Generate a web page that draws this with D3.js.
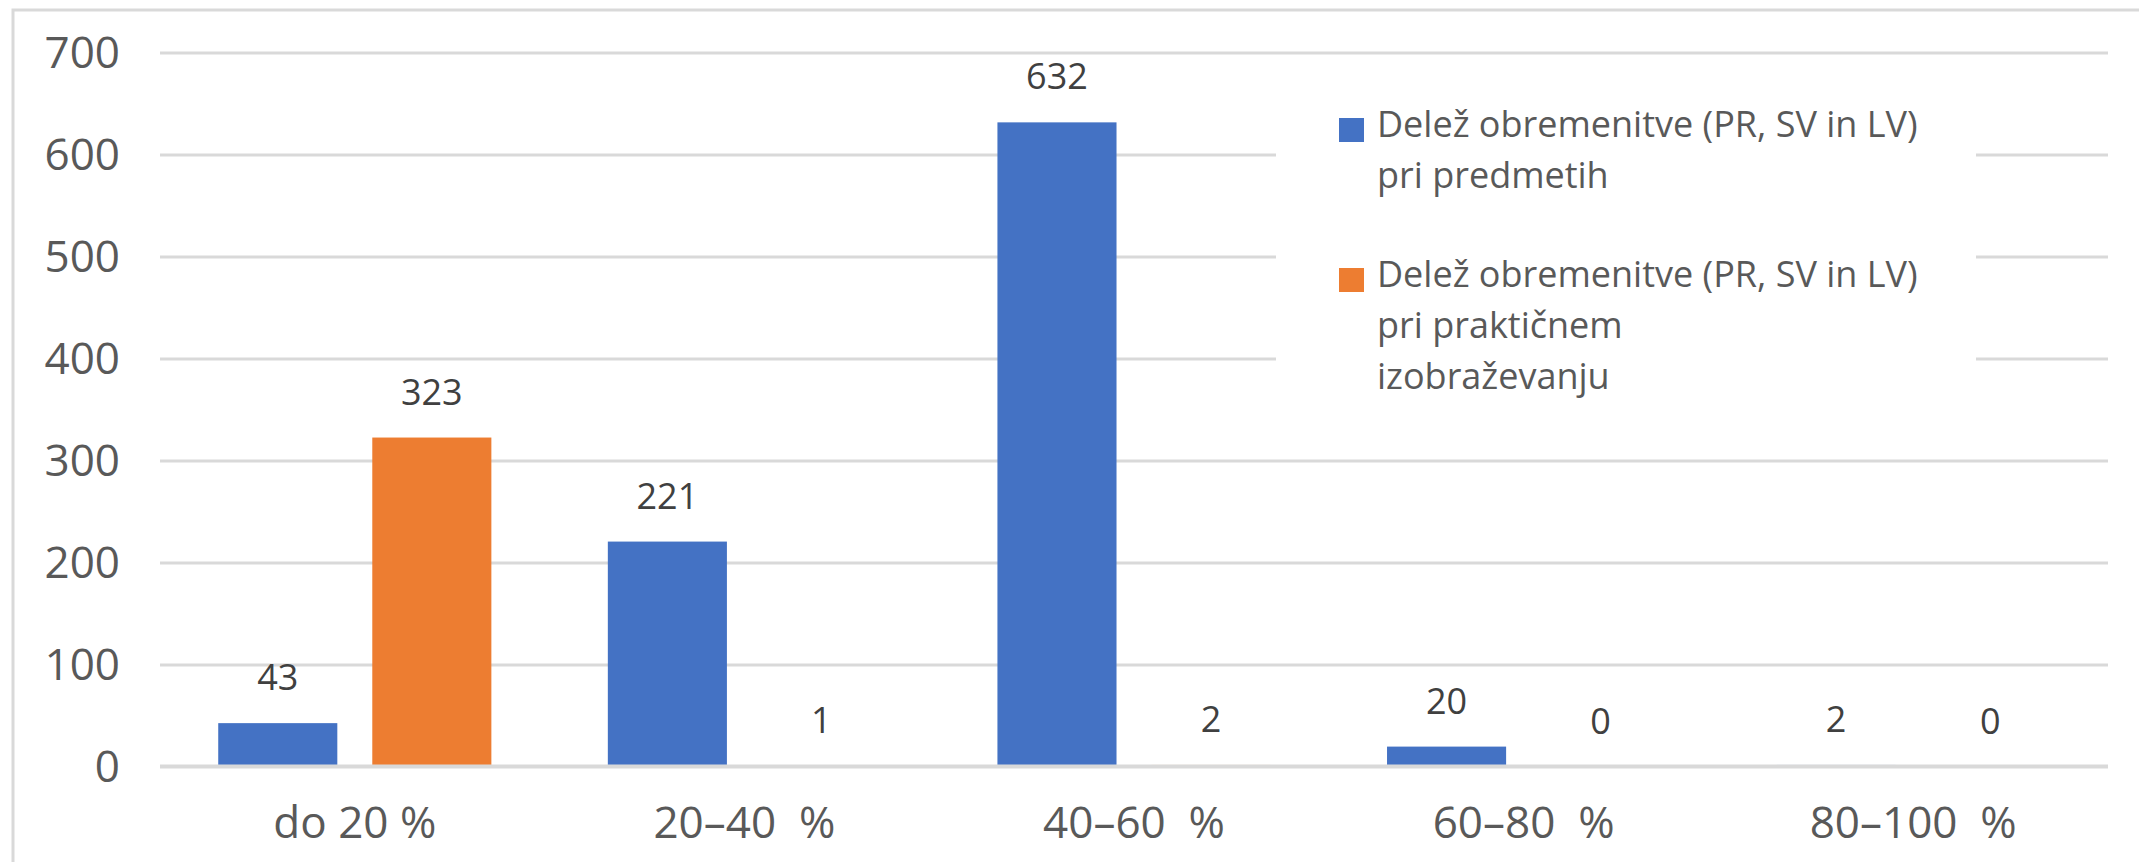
<!DOCTYPE html>
<html>
<head>
<meta charset="utf-8">
<script src="https://cdn.jsdelivr.net/npm/d3@7"></script>
<style>
  body { margin: 0; background: #fff; }
  text { font-family: "Open Sans", sans-serif; }
</style>
</head>
<body>
<div id="chart"></div>
<script>
// categories and values
const categories = ["do 20 %", "20–40  %", "40–60  %", "60–80  %", "80–100  %"];
const seriesNames = [
  ["Delež obremenitve (PR, SV in LV)", "pri predmetih"],
  ["Delež obremenitve (PR, SV in LV)", "pri praktičnem", "izobraževanju"]
];
const predmeti = [43, 221, 632, 20, 2];
const prakticno = [323, 1, 2, 0, 0];
const yTicks = [0, 100, 200, 300, 400, 500, 600, 700];
const colors = ["#4472c4", "#ed7d31"];

const W = 2139, H = 862;
const margin = {top: 53, right: 31, bottom: 95, left: 160};

const svg = d3.select("#chart")
  .append("svg")
  .attr("width", W)
  .attr("height", H);

// outer chart border (only left/top visible in the crop)
svg.append("rect")
  .attr("x", 13).attr("y", 10)
  .attr("width", W + 20).attr("height", H + 20)
  .attr("fill", "none")
  .attr("stroke", "#d9d9d9")
  .attr("stroke-width", 3);

const x0 = d3.scaleBand()
  .domain(categories)
  .range([margin.left, W - margin.right]);

const x1 = d3.scaleBand()
  .domain([0, 1])
  .range([0, x0.bandwidth()])
  .paddingInner(0.227)
  .paddingOuter(0.378);

const y = d3.scaleLinear()
  .domain([0, 700])
  .range([H - margin.bottom, margin.top]);

// gridlines (baseline drawn later, over the bars)
svg.append("g")
  .selectAll("line")
  .data(yTicks.filter(d => d > 0))
  .join("line")
    .attr("x1", margin.left)
    .attr("x2", W - margin.right)
    .attr("y1", d => y(d))
    .attr("y2", d => y(d))
    .attr("stroke", "#d9d9d9")
    .attr("stroke-width", 3);

// y axis labels
const yAxis = svg.append("g")
  .attr("transform", `translate(${margin.left - 40}, 0)`)
  .call(d3.axisLeft(y).tickValues(yTicks).tickSize(0).tickPadding(0));
yAxis.select(".domain").remove();
yAxis.selectAll("text")
  .attr("fill", "#595959")
  .style("font-size", "44px")
  .style("font-family", "'Open Sans', sans-serif");

// x axis labels
const xAxis = svg.append("g")
  .attr("transform", `translate(0, ${y(0)})`)
  .call(d3.axisBottom(x0).tickSize(0).tickPadding(0));
xAxis.select(".domain").remove();
xAxis.selectAll("text")
  .attr("dy", null)
  .attr("y", 71)
  .attr("fill", "#595959")
  .style("white-space", "pre")
  .style("font-size", "44px")
  .style("font-family", "'Open Sans', sans-serif");

// legend background breaks the gridlines
svg.append("rect")
  .attr("x", 1276).attr("y", 80)
  .attr("width", 700).attr("height", 340)
  .attr("fill", "#fff");

const data = categories.map((c, i) => ({cat: c, vals: [predmeti[i], prakticno[i]]}));

const groups = svg.append("g")
  .selectAll("g")
  .data(data)
  .join("g")
    .attr("transform", d => `translate(${x0(d.cat)}, 0)`);

groups.selectAll("rect")
  .data(d => d.vals.map((v, s) => ({s, v})))
  .join("rect")
    .attr("x", d => x1(d.s))
    .attr("width", x1.bandwidth())
    .attr("y", d => y(d.v))
    .attr("height", d => y(0) - y(d.v))
    .attr("fill", d => colors[d.s]);

groups.selectAll("text.lbl")
  .data(d => d.vals.map((v, s) => ({s, v})))
  .join("text")
    .attr("class", "lbl")
    .attr("x", d => x1(d.s) + x1.bandwidth() / 2)
    .attr("y", d => y(d.v) - 33)
    .attr("text-anchor", "middle")
    .attr("fill", "#404040")
    .style("font-size", "36px")
    .text(d => d.v);

// baseline over the bars
svg.append("line")
  .attr("x1", margin.left)
  .attr("x2", W - margin.right)
  .attr("y1", y(0) - 0.5)
  .attr("y2", y(0) - 0.5)
  .attr("stroke", "#d9d9d9")
  .attr("stroke-width", 4);

// legend
const legendTop = [118, 268];
const legend = svg.append("g");
seriesNames.forEach((lines, s) => {
  legend.append("rect")
    .attr("x", 1339).attr("y", legendTop[s])
    .attr("width", 25).attr("height", 24)
    .attr("fill", colors[s]);
  legend.append("text")
    .attr("x", 1377)
    .attr("y", legendTop[s] + 19)
    .attr("fill", "#595959")
    .style("font-size", "36px")
    .selectAll("tspan")
    .data(lines)
    .join("tspan")
      .attr("x", 1377)
      .attr("dy", (d, i) => i === 0 ? 0 : 51)
      .text(d => d);
});
</script>
</body>
</html>
